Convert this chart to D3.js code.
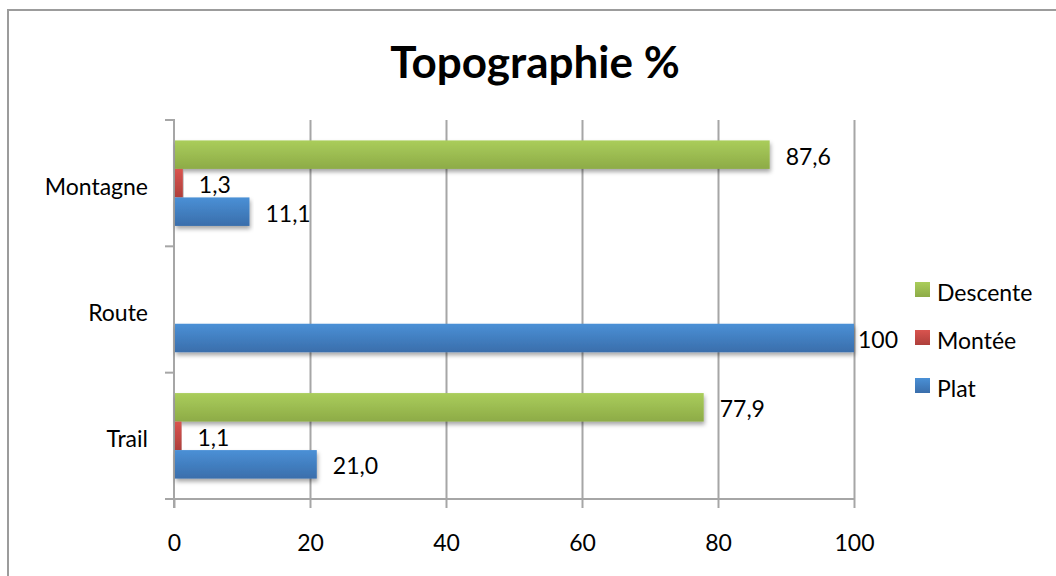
<!DOCTYPE html>
<meta charset="utf-8">
<script src="https://d3js.org/d3.v7.min.js"></script>
<style>
  body { margin: 0; background: #fff; }
  text { font-family: Lato, "Open Sans", sans-serif; fill: #000; }
  .title { font-size: 44px; font-weight: bold; }
  .lbl { font-size: 23px; }
</style>
<div id="chart"></div>
<script>
  // data
  var categories = ["Montagne", "Route", "Trail"];
  var series = ["Descente", "Montée", "Plat"];
  var descente = [87.6, null, 77.9];
  var montee = [1.3, null, 1.1];
  var plat = [11.1, 100, 21.0];
  var xTicks = [0, 20, 40, 60, 80, 100];

  var values = { "Descente": descente, "Montée": montee, "Plat": plat };
  var colors = {
    "Descente": ["#aacd5b", "#8dab47"],
    "Montée": ["#d9544f", "#ae3f3b"],
    "Plat": ["#4a90d6", "#3a6eab"]
  };

  var W = 1056, H = 576;
  var pLeft = 174, pRight = 854, pTop = 120, pBottom = 499;

  var svg = d3.select("#chart").append("svg")
    .attr("width", W).attr("height", H);

  var defs = svg.append("defs");
  series.forEach(function(s, i) {
    var g = defs.append("linearGradient").attr("id", "grad" + i)
      .attr("x1", 0).attr("y1", 0).attr("x2", 0).attr("y2", 1);
    g.append("stop").attr("offset", "0%").attr("stop-color", colors[s][0]);
    g.append("stop").attr("offset", "100%").attr("stop-color", colors[s][1]);
  });
  var f = defs.append("filter").attr("id", "shadow")
    .attr("x", "-5%").attr("y", "-20%").attr("width", "110%").attr("height", "160%");
  f.append("feDropShadow").attr("dx", 1).attr("dy", 3).attr("stdDeviation", 2)
    .attr("flood-color", "#000").attr("flood-opacity", 0.35);

  // outer frame
  svg.append("rect")
    .attr("x", 8).attr("y", 10).attr("width", 1100).attr("height", 620)
    .attr("fill", "none").attr("stroke", "#9c9c9c").attr("stroke-width", 2);

  svg.append("text").attr("class", "title")
    .attr("x", 535).attr("y", 78).attr("text-anchor", "middle")
    .text("Topographie %");

  var x = d3.scaleLinear().domain([0, 100]).range([pLeft, pRight]);
  var y = d3.scaleBand().domain(categories).range([pTop, pBottom]);
  var yIn = d3.scaleBand().domain(series).range([0, y.bandwidth()])
    .paddingInner(0).paddingOuter(0.716);

  // vertical gridlines
  svg.append("g")
    .attr("transform", "translate(0," + pBottom + ")")
    .call(d3.axisBottom(x).tickValues(xTicks.slice(1)).tickSize(-(pBottom - pTop)).tickFormat(""))
    .call(function(g) {
      g.select(".domain").remove();
      g.selectAll("line").attr("stroke", "#a6a6a6").attr("stroke-width", 2);
    });

  // x axis
  svg.append("g")
    .attr("transform", "translate(0," + pBottom + ")")
    .call(d3.axisBottom(x).tickValues(xTicks).tickSize(9).tickFormat(d3.format("d")))
    .call(function(g) {
      g.select(".domain").attr("d", "M" + (pLeft - 9) + ",0H" + pRight)
        .attr("stroke", "#a6a6a6").attr("stroke-width", 2);
      g.selectAll("line").attr("stroke", "#a6a6a6").attr("stroke-width", 2);
      g.selectAll("text").attr("class", "lbl").attr("y", 52).attr("dy", null)
        .attr("fill", "#000");
    });

  // y axis
  svg.append("g")
    .attr("transform", "translate(" + pLeft + ",0)")
    .call(d3.axisLeft(y).tickSize(0).tickPadding(26))
    .call(function(g) {
      g.select(".domain").remove();
      g.selectAll("text").attr("class", "lbl").attr("dy", "0.5em").attr("fill", "#000");
    });
  var edges = categories.map(function(c) { return y(c); }).concat([pBottom]);
  svg.append("g").selectAll("line").data(edges).join("line")
    .attr("x1", pLeft - 9).attr("x2", pLeft)
    .attr("y1", function(d) { return d; }).attr("y2", function(d) { return d; })
    .attr("stroke", "#a6a6a6").attr("stroke-width", 2);
  svg.append("line")
    .attr("x1", pLeft).attr("x2", pLeft).attr("y1", pTop - 1).attr("y2", pBottom + 9)
    .attr("stroke", "#a6a6a6").attr("stroke-width", 2);

  // bars
  var rows = [];
  series.forEach(function(s, si) {
    categories.forEach(function(c, ci) {
      var v = values[s][ci];
      if (v != null) rows.push({ s: s, si: si, c: c, v: v });
    });
  });

  svg.append("g").selectAll("rect").data(rows).join("rect")
    .attr("x", x(0) + 1)
    .attr("y", function(d) { return y(d.c) + yIn(d.s); })
    .attr("width", function(d) { return x(d.v) - x(0) - 1; })
    .attr("height", yIn.bandwidth())
    .attr("fill", function(d) { return "url(#grad" + d.si + ")"; })
    .attr("filter", "url(#shadow)");

  var fmt = function(v) { return v === 100 ? "100" : d3.format(".1f")(v).replace(".", ","); };
  svg.append("g").selectAll("text").data(rows).join("text")
    .attr("class", "lbl")
    .attr("x", function(d) { return Math.min(x(d.v) + 16, pRight + 4); })
    .attr("y", function(d) { return y(d.c) + yIn(d.s) + yIn.bandwidth() / 2 + 10; })
    .text(function(d) { return fmt(d.v); });

  // legend
  var leg = svg.append("g").selectAll("g").data(series).join("g")
    .attr("transform", function(d, i) { return "translate(915," + (282 + i * 48) + ")"; });
  leg.append("rect").attr("width", 15).attr("height", 15)
    .attr("fill", function(d, i) { return "url(#grad" + i + ")"; });
  leg.append("text").attr("class", "lbl").attr("x", 22).attr("y", 19)
    .text(function(d) { return d; });
</script>
